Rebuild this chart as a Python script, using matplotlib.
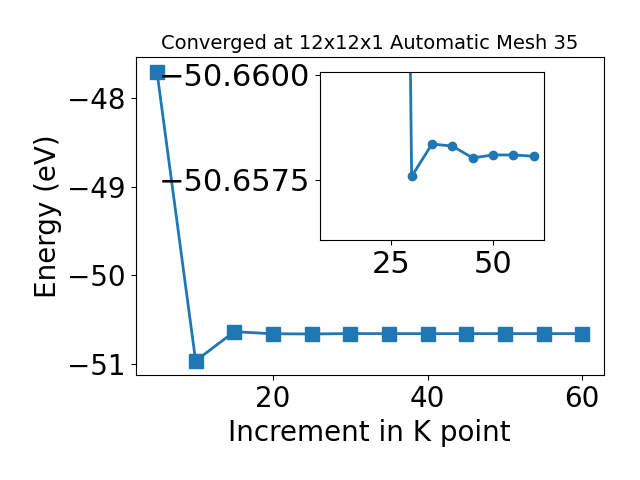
import matplotlib
matplotlib.use('Agg')
import matplotlib.pyplot as plt

# K point increments and converged energies (eV)
k_points = [5, 10, 15, 20, 25, 30, 35, 40, 45, 50, 55, 60]
energy = [-47.70, -50.966, -50.636, -50.660, -50.662, -50.65758, -50.65835,
          -50.6583, -50.65802, -50.65809, -50.65809, -50.65806]

# zoomed-in view data
inset_k = [25, 30, 35, 40, 45, 50, 55, 60]
inset_energy = [-50.70, -50.65758, -50.65835, -50.6583, -50.65802,
                -50.65809, -50.65809, -50.65806]

fig = plt.figure(figsize=(6.4, 4.8), dpi=100)
ax = fig.add_subplot(111)
fig.subplots_adjust(left=0.212, right=0.943, bottom=0.218, top=0.881)

ax.plot(k_points, energy, marker='s', markersize=10, linewidth=2, color='#1f77b4')
ax.set_title('Converged at 12x12x1 Automatic Mesh 35', fontsize=14)
ax.set_xlabel('Increment in K point', fontsize=20)
ax.set_ylabel('Energy (eV)', fontsize=20)
ax.tick_params(labelsize=20)
ax.set_yticks([-48, -49, -50, -51])

# inset
ax_in = fig.add_axes([0.5, 0.5, 0.35, 0.35])
ax_in.plot(inset_k, inset_energy, marker='o', markersize=6, linewidth=2, color='#1f77b4')
ax_in.set_xlim(7.5, 62.5)
ax_in.set_ylim(-50.65607, -50.66006)
ax_in.set_xticks([25, 50])
ax_in.set_yticks([-50.66, -50.6575])
ax_in.ticklabel_format(axis='y', useOffset=False)
ax_in.tick_params(labelsize=22)

plt.savefig('out.png', dpi=100)
